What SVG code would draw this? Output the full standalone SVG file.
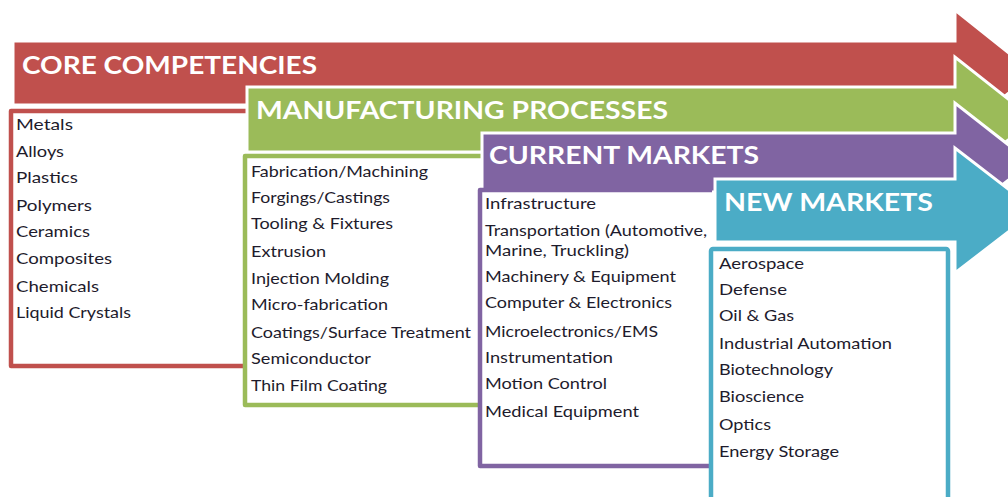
<svg xmlns="http://www.w3.org/2000/svg" width="1008" height="497" viewBox="0 0 1008 497">
<style>
.arrow{stroke:#fff;stroke-width:3;stroke-linejoin:miter}
.box{fill:#fff;stroke-width:4.5;stroke-linejoin:round}
.hdr{font-family:Lato,"Open Sans","Liberation Sans",sans-serif;font-weight:bold;font-size:25px;fill:#fff}
.itm{font-family:Lato,"Open Sans","Liberation Sans",sans-serif;font-size:15px;fill:#1e1b2c}
</style>
<rect width="1008" height="497" fill="#fff"/>
<g id="core-competencies">
<path class="arrow" fill="#C0504D" d="M13,41 H955 V10 L1034,73 L955,136 V105 H13 Z"/>
<path class="box" stroke="#C0504D" d="M246,111 H11 V366 H246"/>
<text class="hdr" x="22" y="73.5" textLength="295" lengthAdjust="spacingAndGlyphs">CORE COMPETENCIES</text>
<text class="itm" x="16" y="130" textLength="57" lengthAdjust="spacingAndGlyphs">Metals</text>
<text class="itm" x="16" y="156.5" textLength="48" lengthAdjust="spacingAndGlyphs">Alloys</text>
<text class="itm" x="16" y="183" textLength="62" lengthAdjust="spacingAndGlyphs">Plastics</text>
<text class="itm" x="16" y="210.5" textLength="76" lengthAdjust="spacingAndGlyphs">Polymers</text>
<text class="itm" x="16" y="237" textLength="74" lengthAdjust="spacingAndGlyphs">Ceramics</text>
<text class="itm" x="16" y="264" textLength="96" lengthAdjust="spacingAndGlyphs">Composites</text>
<text class="itm" x="16" y="291.5" textLength="83" lengthAdjust="spacingAndGlyphs">Chemicals</text>
<text class="itm" x="16" y="318" textLength="115" lengthAdjust="spacingAndGlyphs">Liquid Crystals</text>
</g>
<g id="manufacturing-processes">
<path class="arrow" fill="#9BBB59" d="M247,87 H955 V57 L1034,119.5 L955,182 V152 H247 Z"/>
<path class="box" stroke="#9BBB59" d="M481,156 H245 V405 H481"/>
<text class="hdr" x="256" y="118.5" textLength="412" lengthAdjust="spacingAndGlyphs">MANUFACTURING PROCESSES</text>
<text class="itm" x="251" y="176.5" textLength="177" lengthAdjust="spacingAndGlyphs">Fabrication/Machining</text>
<text class="itm" x="251" y="203" textLength="139" lengthAdjust="spacingAndGlyphs">Forgings/Castings</text>
<text class="itm" x="251" y="229" textLength="142" lengthAdjust="spacingAndGlyphs">Tooling &amp; Fixtures</text>
<text class="itm" x="251" y="256.5" textLength="75" lengthAdjust="spacingAndGlyphs">Extrusion</text>
<text class="itm" x="251" y="284" textLength="138" lengthAdjust="spacingAndGlyphs">Injection Molding</text>
<text class="itm" x="251" y="310" textLength="137" lengthAdjust="spacingAndGlyphs">Micro-fabrication</text>
<text class="itm" x="251" y="338" textLength="220" lengthAdjust="spacingAndGlyphs">Coatings/Surface Treatment</text>
<text class="itm" x="251" y="364" textLength="120" lengthAdjust="spacingAndGlyphs">Semiconductor</text>
<text class="itm" x="251" y="391" textLength="136" lengthAdjust="spacingAndGlyphs">Thin Film Coating</text>
</g>
<g id="current-markets">
<path class="arrow" fill="#8064A2" d="M482,133 H955 V103 L1031,162.5 L955,222 V192 H482 Z"/>
<path class="box" stroke="#8064A2" d="M712,190 H480 V466 H712"/>
<text class="hdr" x="489" y="164" textLength="270" lengthAdjust="spacingAndGlyphs">CURRENT MARKETS</text>
<text class="itm" x="485" y="209" textLength="111" lengthAdjust="spacingAndGlyphs">Infrastructure</text>
<text class="itm" x="485" y="236" textLength="222" lengthAdjust="spacingAndGlyphs">Transportation (Automotive,</text>
<text class="itm" x="485" y="256" textLength="144" lengthAdjust="spacingAndGlyphs">Marine, Truckling)</text>
<text class="itm" x="485" y="282" textLength="191" lengthAdjust="spacingAndGlyphs">Machinery &amp; Equipment</text>
<text class="itm" x="485" y="308" textLength="187" lengthAdjust="spacingAndGlyphs">Computer &amp; Electronics</text>
<text class="itm" x="485" y="336.5" textLength="173" lengthAdjust="spacingAndGlyphs">Microelectronics/EMS</text>
<text class="itm" x="485" y="363" textLength="128" lengthAdjust="spacingAndGlyphs">Instrumentation</text>
<text class="itm" x="485" y="389" textLength="122" lengthAdjust="spacingAndGlyphs">Motion Control</text>
<text class="itm" x="485" y="417" textLength="154" lengthAdjust="spacingAndGlyphs">Medical Equipment</text>
</g>
<g id="new-markets">
<path class="arrow" fill="#4BACC6" d="M715,179 H955 V148 L1036,210.5 L955,273 V242 H715 Z"/>
<rect class="box" stroke="#4BACC6" x="711" y="249" width="237" height="270" rx="2"/>
<text class="hdr" x="724" y="210.5" textLength="209" lengthAdjust="spacingAndGlyphs">NEW MARKETS</text>
<text class="itm" x="719" y="269" textLength="85" lengthAdjust="spacingAndGlyphs">Aerospace</text>
<text class="itm" x="719" y="295" textLength="68" lengthAdjust="spacingAndGlyphs">Defense</text>
<text class="itm" x="719" y="321" textLength="75" lengthAdjust="spacingAndGlyphs">Oil &amp; Gas</text>
<text class="itm" x="719" y="349" textLength="173" lengthAdjust="spacingAndGlyphs">Industrial Automation</text>
<text class="itm" x="719" y="375" textLength="114" lengthAdjust="spacingAndGlyphs">Biotechnology</text>
<text class="itm" x="719" y="402" textLength="85" lengthAdjust="spacingAndGlyphs">Bioscience</text>
<text class="itm" x="719" y="430" textLength="52" lengthAdjust="spacingAndGlyphs">Optics</text>
<text class="itm" x="719" y="457" textLength="120" lengthAdjust="spacingAndGlyphs">Energy Storage</text>
</g>
<g id="connectors"/>
</svg>
